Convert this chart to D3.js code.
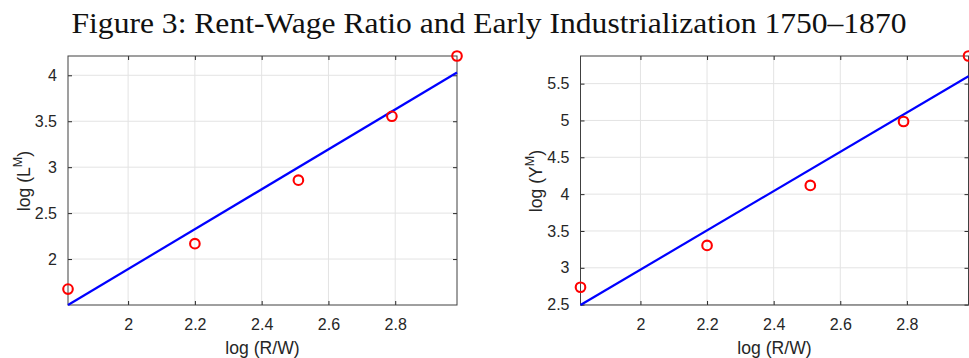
<!DOCTYPE html>
<html>
<head>
	<title>Rent-Wage Ratio</title>
	<script src="https://cdn.jsdelivr.net/npm/d3@7/dist/d3.min.js" charset="utf-8"></script>
	<style>
		body { margin: 0; background: #fff; }
		text { font-family: "Liberation Sans", Arial, sans-serif; fill: #262626; }
	</style>
</head>
<body>
<script type="text/javascript">
	// data
	var logRW = [1.82, 2.2, 2.51, 2.79, 2.985];
	var logL  = [1.673, 2.167, 2.858, 3.554, 4.21];
	var logY  = [2.736, 3.304, 4.118, 4.986, 5.875];
	// fitted line endpoints (at min and max of log R/W)
	var fitL = [1.50, 4.03];
	var fitY = [2.495, 5.60];

	var xTicks  = [2, 2.2, 2.4, 2.6, 2.8];
	var yTicksL = [2, 2.5, 3, 3.5, 4];
	var yTicksY = [2.5, 3, 3.5, 4, 4.5, 5, 5.5];

	var svgWidth = 969, svgHeight = 358;

	var svg = d3.select("body")
		.append("svg")
		.attr("width", svgWidth)
		.attr("height", svgHeight);

	svg.append("text")
		.attr("x", 489)
		.attr("y", 33)
		.attr("text-anchor", "middle")
		.attr("textLength", 835)
		.attr("lengthAdjust", "spacingAndGlyphs")
		.style("font-family", "'Liberation Serif', 'DejaVu Serif', serif")
		.style("font-size", "29px")
		.style("fill", "#111")
		.text("Figure 3: Rent-Wage Ratio and Early Industrialization 1750–1870");

	function panel(left, right, yVals, yFit, yTicks, letter, labelX) {
		var top = 56, bottom = 305;
		var x = d3.scaleLinear().domain([logRW[0], logRW[logRW.length - 1]]).range([left, right]);
		var y = d3.scaleLinear().domain([yFit[0], d3.max(yVals)]).range([bottom, top]);

		var g = svg.append("g");

		// grid
		g.selectAll(".gx").data(xTicks).enter().append("line")
			.attr("x1", function(d) { return x(d); }).attr("x2", function(d) { return x(d); })
			.attr("y1", top).attr("y2", bottom)
			.style("stroke", "#e3e3e3").style("stroke-width", 1);
		g.selectAll(".gy").data(yTicks).enter().append("line")
			.attr("y1", function(d) { return y(d); }).attr("y2", function(d) { return y(d); })
			.attr("x1", left).attr("x2", right)
			.style("stroke", "#e3e3e3").style("stroke-width", 1);

		// axes with inward ticks
		var ax = [
			[d3.axisBottom(x).tickValues(xTicks).tickSizeInner(-4).tickSizeOuter(0).tickPadding(14).tickFormat(d3.format("")), "translate(0," + bottom + ")"],
			[d3.axisTop(x).tickValues(xTicks).tickSizeInner(-4).tickSizeOuter(0).tickFormat(""), "translate(0," + top + ")"],
			[d3.axisLeft(y).tickValues(yTicks).tickSizeInner(-4).tickSizeOuter(0).tickPadding(11).tickFormat(d3.format("")), "translate(" + left + ",0)"],
			[d3.axisRight(y).tickValues(yTicks).tickSizeInner(-4).tickSizeOuter(0).tickFormat(""), "translate(" + right + ",0)"]
		];
		ax.forEach(function(a) {
			var s = g.append("g").attr("transform", a[1]).call(a[0]);
			s.select(".domain").remove();
			s.selectAll("line").style("stroke", "#262626");
			s.selectAll("text").style("font-family", "'Liberation Sans', Arial, sans-serif")
				.style("font-size", "16px").style("fill", "#262626");
		});

		// box
		g.append("rect")
			.attr("x", left).attr("y", top)
			.attr("width", right - left).attr("height", bottom - top)
			.style("fill", "none").style("stroke", "#404040").style("stroke-width", 1);

		// fitted line
		g.append("line")
			.attr("x1", x(logRW[0])).attr("y1", y(yFit[0]))
			.attr("x2", x(logRW[logRW.length - 1])).attr("y2", y(yFit[1]))
			.style("stroke", "#0000ff").style("stroke-width", 2.2);

		// points
		g.selectAll(".pt").data(logRW).enter().append("circle")
			.attr("cx", function(d) { return x(d); })
			.attr("cy", function(d, i) { return y(yVals[i]); })
			.attr("r", 4.8)
			.style("fill", "none").style("stroke", "#ff0000").style("stroke-width", 2.1);

		// labels
		g.append("text")
			.attr("x", (left + right) / 2).attr("y", 354)
			.attr("text-anchor", "middle")
			.style("font-size", "17.6px")
			.text("log (R/W)");

		var yl = g.append("text")
			.attr("transform", "translate(" + labelX + ",181) rotate(-90)")
			.attr("text-anchor", "middle")
			.style("font-size", "17.6px");
		yl.append("tspan").text("log (" + letter);
		yl.append("tspan").attr("dy", -8).style("font-size", "12.5px").text("M");
		yl.append("tspan").attr("dy", 8).text(")");
	}

	panel(68, 457, logL, fitL, yTicksL, "L", 30);
	panel(580.5, 968.5, logY, fitY, yTicksY, "Y", 542);
</script>
</body>
</html>
